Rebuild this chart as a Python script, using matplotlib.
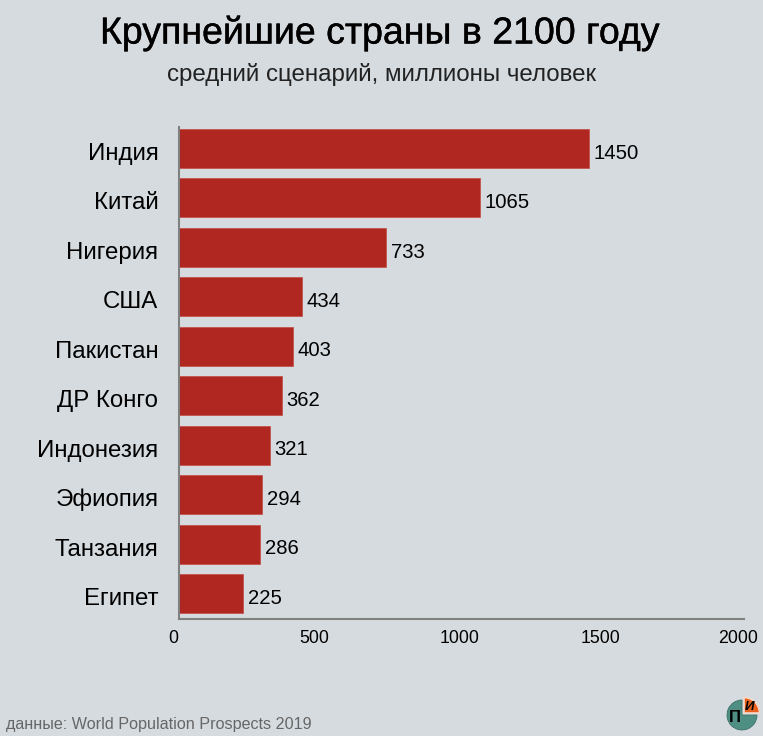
import matplotlib.pyplot as plt
import matplotlib.patheffects as pe
from matplotlib.patches import Wedge
from matplotlib.transforms import ScaledTranslation

plt.rcParams['font.family'] = ['Liberation Sans', 'DejaVu Sans']

countries = ['Индия', 'Китай', 'Нигерия', 'США', 'Пакистан', 'ДР Конго',
             'Индонезия', 'Эфиопия', 'Танзания', 'Египет']
population = [1450, 1065, 733, 434, 403, 362, 321, 294, 286, 225]

bg = '#d6dbdf'
fig = plt.figure(figsize=(7.63, 7.36), dpi=100, facecolor=bg)
ax = fig.add_axes([179.4 / 763, 1 - 619 / 736, 565 / 763, 492 / 736], facecolor=bg)

y_pos = list(range(len(countries)))
ax.barh(y_pos, population, height=0.79, color='#b02621', edgecolor='#c4544d', linewidth=0.6)
ax.set_yticks(y_pos)
ax.set_yticklabels(countries, fontsize=17.3)
ax.set_ylim(9.516, -0.435)
ax.set_xlim(0, 2000)
ax.set_xticks([0, 500, 1000, 1500, 2000])
ax.set_xticklabels(['0', '500', '1000', '1500', '2000'], fontsize=12.8)
ax.tick_params(axis='y', length=0, pad=15.2)
ax.tick_params(axis='x', length=0, pad=8)

# labels sit a little lower than the bar centres, x labels a little to the left
for lab in ax.get_yticklabels():
    lab.set_transform(lab.get_transform() + ScaledTranslation(0, -3 / 100, fig.dpi_scale_trans))
for lab, dx in zip(ax.get_xticklabels(), [-6.5, -6.5, -2.5, -2.5, -6.5]):
    lab.set_transform(lab.get_transform() + ScaledTranslation(dx / 100, 0, fig.dpi_scale_trans))

for i, v in enumerate(population):
    ax.annotate(str(v), (v, i), xytext=(3.3, -3.4), textcoords='offset points',
                va='center', fontsize=14.6, color='black')

for s in ['top', 'right']:
    ax.spines[s].set_visible(False)
for s in ['left', 'bottom']:
    ax.spines[s].set_color('#808080')
    ax.spines[s].set_linewidth(1.5)

fig.text(380 / 763, 1 - 33 / 736, 'Крупнейшие страны в 2100 году',
         ha='center', va='center', fontsize=27, color='black',
         path_effects=[pe.withStroke(linewidth=0.3, foreground='black')])
fig.text(381.5 / 763, 1 - 75 / 736, 'средний сценарий, миллионы человек',
         ha='center', va='center', fontsize=17.4, color='#222222')
fig.text(6 / 763, 1 - 724.5 / 736, 'данные: World Population Prospects 2019',
         ha='left', va='center', fontsize=11.6, color='#666666')

# logo in the corner, axes in reference pixels
logo = fig.add_axes([720 / 763, 0, 43 / 763, 43 / 736])
logo.set_xlim(720, 763)
logo.set_ylim(736, 693)
logo.axis('off')
# y axis is inverted here, so angles run clockwise from the right
logo.add_patch(Wedge((742, 715), 15, 0, 270, facecolor='#4f8f83', edgecolor='#3c7068', linewidth=0.6))
logo.add_patch(Wedge((744, 713), 15.5, 270, 360, facecolor='#e8601c', edgecolor='#f3d9cc', linewidth=1.2))
logo.text(735, 717, 'П', fontsize=12, fontweight='bold', ha='center', va='center', color='black')
logo.text(750, 706.5, 'И', fontsize=9.5, fontweight='bold', fontstyle='italic', ha='center', va='center', color='black')

fig.savefig('out.png', dpi=100, facecolor=bg)
